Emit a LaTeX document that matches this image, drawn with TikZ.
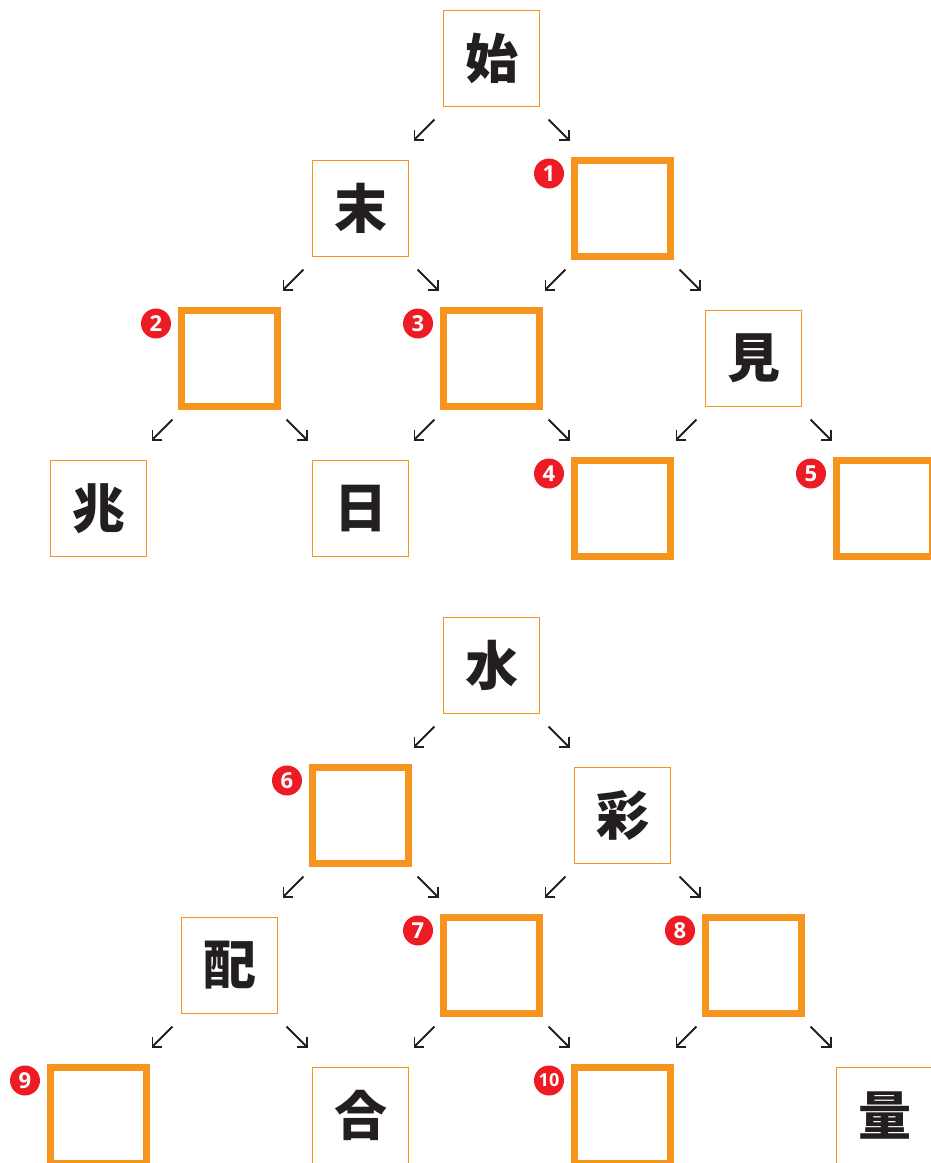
\documentclass[tikz,border=0pt]{standalone}
\usepackage{fontspec}
\setmainfont{Open Sans}
\newfontfamily\cjk{Noto Sans CJK JP}
\usetikzlibrary{arrows.meta}
\definecolor{orng}{HTML}{F7941D}
\definecolor{badgered}{HTML}{ED1C24}
\definecolor{ink}{HTML}{231F20}
\begin{document}
\begin{tikzpicture}[x=1pt,y=-1pt,
 given/.style={draw=orng, line width=1.6pt, minimum size=96pt, inner sep=0pt, text=ink,
   font=\cjk\bfseries\fontsize{53}{53}\selectfont},
 blank/.style={draw=orng, line width=7pt, minimum size=96.5pt, inner sep=0pt},
 badge/.style={circle, fill=badgered, minimum size=30pt, inner sep=0pt, text=white,
   font=\bfseries\fontsize{22}{22}\selectfont},
 badgesm/.style={badge, font=\bfseries\fontsize{18}{18}\selectfont},
 arr/.style={draw=ink, line width=1.8pt, -{Straight Barb[length=7pt,width=14pt]}}]
\useasboundingbox (0,0) rectangle (931,1163);
\clip (0,0) rectangle (931,1163);
% top tree
\node[given] (t0)  at (491.5,58.5) {始};
\node[given] (t1a) at (360.5,208.5) {末};
\node[blank] (t1b) at (622.5,208.5) {};
\node[blank] (t2a) at (229.5,358.5) {};
\node[blank] (t2b) at (491.5,358.5) {};
\node[given] (t2c) at (753.5,358.5) {見};
\node[given] (t3a) at (98.5,508.5) {兆};
\node[given] (t3b) at (360.5,508.5) {日};
\node[blank] (t3c) at (622.5,508.5) {};
\node[blank] (t3d) at (884.5,508.5) {};
% bottom tree
\node[given] (b0)  at (491.5,665.5) {水};
\node[blank] (b1a) at (360.5,815.5) {};
\node[given] (b1b) at (622.5,815.5) {彩};
\node[given] (b2a) at (229.5,965.5) {配};
\node[blank] (b2b) at (491.5,965.5) {};
\node[blank] (b2c) at (753.5,965.5) {};
\node[blank] (b3a) at (98.5,1115.5) {};
\node[given] (b3b) at (360.5,1115.5) {合};
\node[blank] (b3c) at (622.5,1115.5) {};
\node[given] (b3d) at (884.5,1115.5) {量};
% badges
\foreach \b/\n in {t1b/1, t2a/2, t2b/3, t3c/4, t3d/5, b1a/6, b2b/7, b2c/8, b3a/9}
  \node[badge] (n\n) at ([shift={(-73.5,-35)}]\b.center) {\n};
\node[badgesm] (n10) at ([shift={(-73.5,-35)}]b3c.center) {10};
% arrows
\foreach \p/\c in {t0/t1a, t1a/t2a, t1b/t2b, t2a/t3a, t2b/t3b, t2c/t3c,
                   b0/b1a, b1a/b2a, b1b/b2b, b2a/b3a, b2b/b3b, b2c/b3c}
  \draw[arr] ([shift={(-57,61)}]\p.center) -- ([shift={(53,-68)}]\c.center);
\foreach \p/\c in {t0/t1b, t1a/t2b, t1b/t2c, t2a/t3b, t2b/t3c, t2c/t3d,
                   b0/b1b, b1a/b2b, b1b/b2c, b2a/b3b, b2b/b3c, b2c/b3d}
  \draw[arr] ([shift={(57,61)}]\p.center) -- ([shift={(-53,-68)}]\c.center);
\end{tikzpicture}
\end{document}
